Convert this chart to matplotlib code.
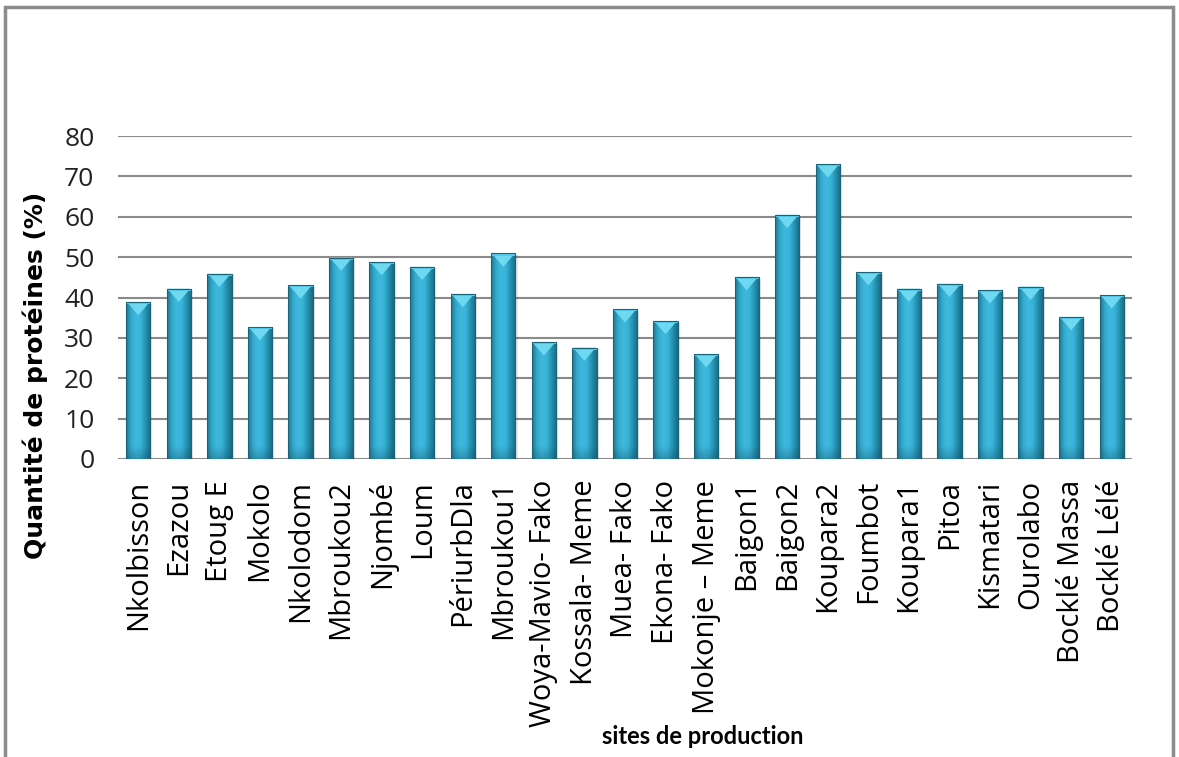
import numpy as np
import matplotlib.pyplot as plt
from matplotlib.patches import Rectangle, Polygon
from matplotlib.colors import LinearSegmentedColormap

# teneur en protéines par site de production
sites = ["Nkolbisson", "Ezazou", "Etoug E", "Mokolo", "Nkolodom", "Mbroukou2",
         "Njombé", "Loum", "PériurbDla", "Mbroukou1", "Woya-Mavio- Fako",
         "Kossala- Meme", "Muea- Fako", "Ekona- Fako", "Mokonje – Meme",
         "Baigon1", "Baigon2", "Koupara2", "Foumbot", "Koupara1", "Pitoa",
         "Kismatari", "Ourolabo", "Bocklé Massa", "Bocklé Lélé"]
proteines = [38.9, 42.2, 45.9, 32.7, 43.0, 49.9, 48.8, 47.6, 40.9, 50.9,
             28.9, 27.6, 37.1, 34.2, 26.0, 45.1, 60.5, 73.0, 46.3, 42.2,
             43.4, 41.8, 42.7, 35.2, 40.6]
yticks = [0, 10, 20, 30, 40, 50, 60, 70, 80]

W, H = 1179, 757
fig = plt.figure(figsize=(W / 100, H / 100), dpi=100)

# cadre gris autour du graphique
fig.patches.append(Rectangle((5 / W, -0.05), 1168 / W, 1.05 - 7 / H,
                             transform=fig.transFigure, fill=False,
                             edgecolor="#8c8c8c", linewidth=2.5))

ax = fig.add_axes([118 / W, 1 - 459 / H, 1014 / W, 323 / H])
x = np.arange(len(sites))
largeur = 0.6

# dégradé horizontal des barres (bords sombres, centre clair)
cmap = LinearSegmentedColormap.from_list(
    "cyl", ["#1f7892", "#33a9cc", "#3ebadf", "#39b2d7", "#2390ae", "#1a6b82"])
grad = np.linspace(0, 1, 64).reshape(1, -1)
vert = np.linspace(0, 1, 64).reshape(-1, 1)
fondu = LinearSegmentedColormap.from_list(
    "bas", [(0.08, 0.30, 0.38, 0.35), (0.08, 0.30, 0.38, 0.0)])

bars = ax.bar(x, proteines, width=largeur, color="none", edgecolor="none", zorder=3)
for b, v in zip(bars, proteines):
    x0 = b.get_x()
    # ombre légère
    ax.add_patch(Rectangle((x0 + 0.05, 0), largeur, v - 0.4, facecolor="#000000",
                           alpha=0.10, edgecolor="none", zorder=2))
    im = ax.imshow(grad, cmap=cmap, aspect="auto", extent=(x0, x0 + largeur, 0, v),
                   zorder=3, interpolation="bicubic")
    im.set_clip_path(Rectangle((x0, 0), largeur, v, transform=ax.transData))
    # assombrissement vers le bas
    sh = ax.imshow(vert, cmap=fondu, aspect="auto", extent=(x0, x0 + largeur, 0, 3),
                   origin="lower", zorder=3.5, interpolation="bicubic")
    sh.set_clip_path(Rectangle((x0, 0), largeur, v, transform=ax.transData))
    # biseau clair en haut
    ax.add_patch(Polygon([(x0 + 0.02, v), (x0 + largeur - 0.02, v),
                          (x0 + largeur / 2, v - 3.3)],
                         closed=True, facecolor="#72dbf4", edgecolor="none",
                         alpha=0.95, zorder=4))
    ax.add_patch(Rectangle((x0, v - 0.5), largeur, 0.5, facecolor="#55cbec",
                           edgecolor="none", zorder=4))
    ax.add_patch(Rectangle((x0, 0), largeur, v, fill=False,
                           edgecolor="#1a6479", linewidth=0.8, zorder=4))

ax.set_xlim(-0.5, len(sites) - 0.5)
ax.set_ylim(0, 80)
ax.set_yticks(yticks)
ax.yaxis.grid(True, color="#8a8a8a", linewidth=1.5, zorder=0)
ax.set_axisbelow(True)
for s in ax.spines.values():
    s.set_visible(False)
ax.tick_params(axis="y", length=0, pad=17, labelsize=19, labelcolor="#222222")
ax.tick_params(axis="x", length=0, pad=15)
for lab in ax.get_yticklabels():
    lab.set_family("Open Sans")

ax.set_xticks(x)
ax.set_xticklabels(sites, rotation=90, fontsize=21, family="Open Sans",
                   va="top", ha="center")

fig.text(35 / W, 1 - 375 / H, "Quantité de protéines (%)", rotation=90,
         ha="center", va="center", fontsize=18, fontweight="bold",
         family="DejaVu Sans")
fig.text(703 / W, 1 - 736 / H, "sites de production", ha="center", va="center",
         fontsize=17, fontweight="bold", family="Lato")

fig.savefig("out.png", dpi=100, facecolor="white")
